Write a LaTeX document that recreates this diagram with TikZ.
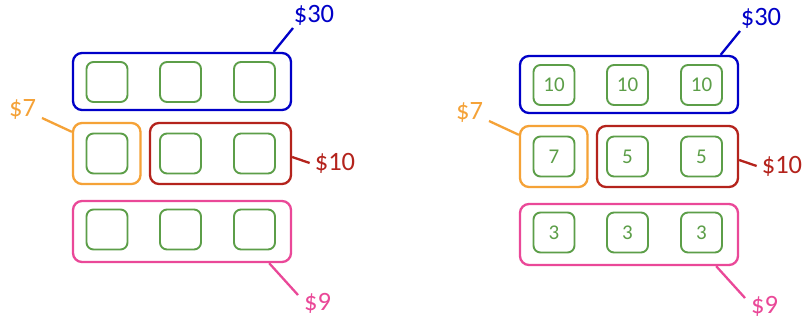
\documentclass[tikz,border=0pt]{standalone}
\usepackage{fontspec}
\setmainfont{Carlito}
\usetikzlibrary{calc}

\definecolor{tapeblue}{RGB}{0,0,200}
\definecolor{tapeorange}{RGB}{245,162,55}
\definecolor{tapered}{RGB}{180,35,28}
\definecolor{tapepink}{RGB}{234,72,152}
\definecolor{unitgreen}{RGB}{92,158,72}

\tikzset{
  group/.style={draw, line width=2.3pt, rounded corners=9pt, inner sep=0pt},
  unit/.style={draw=unitgreen, line width=1.9pt, rounded corners=7pt,
    minimum width=41pt, minimum height=40pt, inner sep=0pt,
    text=unitgreen, font=\fontsize{21}{22}\selectfont},
  price/.style={inner sep=0pt, font=\fontsize{26.5}{28}\selectfont},
  leader/.style={line width=2.3pt},
}

% One tape diagram: #1 name prefix, #2 shift, #3..#6 numbers in the units
\newcommand\moneypanel[6]{%
\begin{scope}[shift={#2}]
  % grouping boxes
  \node[group, draw=tapeblue, minimum width=218pt, minimum height=57pt] (#1top) at (182,81.5) {};
  \node[group, draw=tapeorange, minimum width=67.5pt, minimum height=61pt] (#1seven) at (106.75,153.5) {};
  \node[group, draw=tapered, minimum width=141pt, minimum height=61pt] (#1ten) at (220.5,153.5) {};
  \node[group, draw=tapepink, minimum width=218pt, minimum height=61pt] (#1nine) at (182,231.5) {};
  % unit squares
  \node[unit] (#1a1) at (107,82) {#3};
  \node[unit] (#1a2) at (180.5,82) {#3};
  \node[unit] (#1a3) at (254.5,82) {#3};
  \node[unit] (#1b1) at (107,153.5) {#4};
  \node[unit] (#1b2) at (180.5,153.5) {#5};
  \node[unit] (#1b3) at (254.5,153.5) {#5};
  \node[unit] (#1c1) at (107,229.5) {#6};
  \node[unit] (#1c2) at (180.5,229.5) {#6};
  \node[unit] (#1c3) at (254.5,229.5) {#6};
  % price labels
  \node[price, text=tapeblue] (#1l30) at (314,15) {\$30};
  \node[price, text=tapeorange] (#1l7) at (22.5,109) {\$7};
  \node[price, text=tapered] (#1l10) at (335,163) {\$10};
  \node[price, text=tapepink] (#1l9) at (317.5,303) {\$9};
  % leader lines
  \draw[leader, tapeblue] ($(#1top.north east)+(-18.5,0)$) -- ($(#1l30)+(-21,13)$);
  \draw[leader, tapeorange] ($(#1seven.north west)+(0,10)$) -- ($(#1l7)+(19.5,9)$);
  \draw[leader, tapered] ($(#1ten.east)+(0,3.5)$) -- ($(#1l10.west)+(-5,0)$);
  \draw[leader, tapepink] ($(#1nine.south east)+(-23,0)$) -- ($(#1l9)+(-19.5,-8)$);
\end{scope}}

\begin{document}
\begin{tikzpicture}[x=1pt, y=-1pt]
  \fill[white] (0,0) rectangle (803,320);
  \useasboundingbox (0,0) rectangle (803,320);
  \moneypanel{L}{(0,0)}{}{}{}{}
  \moneypanel{R}{(447,3)}{10}{7}{5}{3}
\end{tikzpicture}
\end{document}
